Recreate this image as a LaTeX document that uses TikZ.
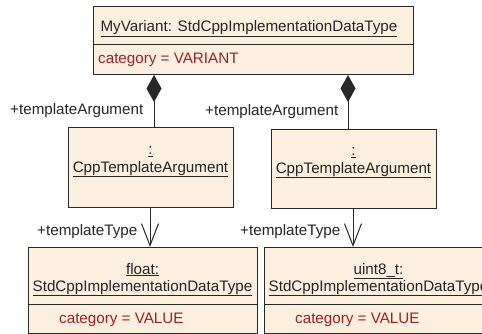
\documentclass[tikz,border=0pt]{standalone}
\usepackage{fontspec}
\setmainfont{Liberation Sans}
\usetikzlibrary{arrows.meta}
\definecolor{boxfill}{RGB}{251,240,224}
\definecolor{boxline}{RGB}{40,40,40}
\definecolor{attr}{RGB}{165,30,35}
\begin{document}
\begin{tikzpicture}[x=1pt,y=-1pt,
  every node/.style={font=\fontsize{15.2}{17}\selectfont, inner sep=0pt},
  umlbox/.style={draw=boxline, fill=boxfill, line width=1pt, anchor=north west},
  sepline/.style={draw=boxline, line width=1pt},
  txt/.style={anchor=base, text=black!85},
  attrtxt/.style={anchor=base west, text=attr},
  lbl/.style={anchor=base west, text=black!85},
  comp/.style={draw=boxline, line width=1pt, -{Diamond[length=27pt,width=15pt]}},
  nav/.style={draw=boxline, line width=1pt, line join=miter, -{Straight Barb[length=22pt,width=17pt]}}]
\useasboundingbox (0,0) rectangle (482,334);
\clip (0,0) rectangle (482,334);

% boxes
\node[umlbox, minimum width=320pt, minimum height=68pt] (top) at (93,6) {};
\draw[sepline] (top.north west) ++(0,39) -- ++(320,0);
\node[umlbox, minimum width=165pt, minimum height=80pt] (ml) at (68,127) {};
\node[umlbox, minimum width=165pt, minimum height=79pt] (mr) at (271,129) {};
\node[umlbox, minimum width=229pt, minimum height=86pt] (bl) at (28,247) {};
\draw[sepline] (bl.north west) ++(0,57) -- ++(229,0);
\node[umlbox, minimum width=229pt, minimum height=86pt] (br) at (264,247) {};
\draw[sepline] (br.north west) ++(0,57) -- ++(229,0);

% texts
\node[txt] (toptitle) at (249,32) {\underline{MyVariant: StdCppImplementationDataType}};
\node[attrtxt] (topattr) at (98,64) {category = VARIANT};
\node[txt] (mlcolon) at (150.5,155) {\underline{:}};
\node[txt] (mltype) at (150.5,172) {\underline{CppTemplateArgument}};
\node[txt] (mrcolon) at (353.5,156) {\underline{:}};
\node[txt] (mrtype) at (353.5,173) {\underline{CppTemplateArgument}};
\node[txt] (blname) at (142.5,274) {\underline{float:}};
\node[txt] (bltype) at (142.5,291) {\underline{StdCppImplementationDataType}};
\node[attrtxt] (blattr) at (59,323) {category = VALUE};
\node[txt] (brname) at (378.5,274) {\underline{uint8\_t:}};
\node[txt] (brtype) at (378.5,291) {\underline{StdCppImplementationDataType}};
\node[attrtxt] (brattr) at (295,323) {category = VALUE};

% connector labels
\node[lbl] (la1) at (10,115) {+templateArgument};
\node[lbl] (la2) at (205,116) {+templateArgument};
\node[lbl] (lt1) at (37,235) {+templateType};
\node[lbl] (lt2) at (240,235) {+templateType};

% connectors
\coordinate (d1) at (154,0);
\coordinate (d2) at (348,0);
\coordinate (e1) at (150,0);
\coordinate (e2) at (353,0);
\draw[comp] (d1 |- ml.north) -- (d1 |- top.south);
\draw[comp] (d2 |- mr.north) -- (d2 |- top.south);
\draw[nav] (e1 |- ml.south) -- (e1 |- bl.north);
\draw[nav] (e2 |- mr.south) -- (e2 |- br.north);
\end{tikzpicture}
\end{document}
